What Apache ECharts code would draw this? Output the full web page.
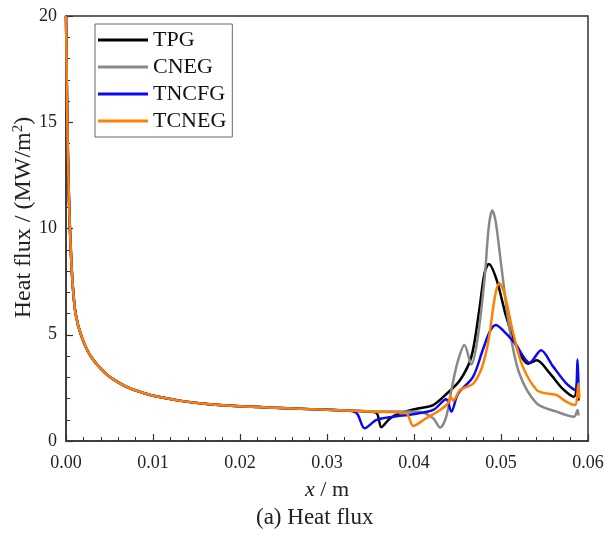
<!DOCTYPE html>
<html><head><meta charset="utf-8">
<script src="https://cdn.jsdelivr.net/npm/echarts@6/dist/echarts.min.js"></script>
<style>html,body{margin:0;padding:0;background:#fff}#c{width:610px;height:536px}</style>
</head><body><div id="c"></div>
<script>
// shared near-wall part (all four curves coincide here)
const nearWall = [[0,20],[0.00012,16],[0.00022,13.5],[0.00032,11.7],[0.00046,9.9],[0.00073,7.6],[0.0011,6.0],[0.0018,4.9],[0.0029,3.95],[0.0047,3.12],[0.006,2.76],[0.0074,2.47],[0.009,2.25],[0.0105,2.09],[0.013,1.9],[0.0165,1.73],[0.02,1.63],[0.024,1.56],[0.028,1.5],[0.032,1.44]];
const tpgTail = [[0.0345,1.39],[0.0357,1.32],[0.03625,0.65],[0.0372,1.05],[0.0383,1.3],[0.0395,1.44],[0.0406,1.54],[0.0422,1.69],[0.0437,2.2],[0.0453,2.87],[0.0466,3.97],[0.0475,6.16],[0.0481,7.89],[0.0486,8.33],[0.0495,7.58],[0.0506,5.85],[0.0518,4.44],[0.0531,3.64],[0.0541,3.8],[0.0556,3.19],[0.0571,2.45],[0.0584,2.08],[0.0588,2.85],[0.0589,1.9]];
const cnegTail = [[0.036,1.39],[0.0406,1.38],[0.0422,1.07],[0.0430,0.63],[0.0437,1.14],[0.0443,2.4],[0.0450,3.7],[0.0458,4.52],[0.0466,3.6],[0.0473,4.8],[0.0481,7.58],[0.0486,10.1],[0.0490,10.85],[0.0494,10.3],[0.0500,8.36],[0.0510,5.22],[0.0521,3.19],[0.0541,1.77],[0.0564,1.38],[0.0584,1.14],[0.0588,1.46],[0.0589,1.2]];
const tncfgTail = [[0.0334,1.32],[0.03433,0.6],[0.0357,0.99],[0.0376,1.14],[0.0399,1.26],[0.0422,1.46],[0.0437,1.96],[0.0443,1.38],[0.0449,2.08],[0.0453,2.35],[0.0468,3.03],[0.0479,4.28],[0.0487,5.14],[0.0494,5.46],[0.0502,5.22],[0.0516,4.6],[0.0533,3.68],[0.0546,4.27],[0.0560,3.5],[0.0575,2.71],[0.0585,2.4],[0.0588,3.84],[0.0589,2.6]];
const tcnegTail = [[0.036,1.37],[0.0391,1.3],[0.0399,0.71],[0.0414,1.07],[0.0430,1.46],[0.0439,1.77],[0.0442,2.08],[0.0445,1.9],[0.0453,2.4],[0.0468,2.7],[0.0477,3.34],[0.0483,4.2],[0.0487,5.07],[0.0493,6.79],[0.0498,7.42],[0.0504,6.95],[0.0514,5.07],[0.0525,3.5],[0.0541,2.4],[0.0552,2.24],[0.0564,2.16],[0.0575,1.85],[0.0585,1.69],[0.0589,2.71],[0.0590,2.0]];
const seriesNames = ['TPG','CNEG','TNCFG','TCNEG'];
const seriesColors = ['#000000','#888888','#0a0af0','#ff8000'];
const xTicks = [0,0.01,0.02,0.03,0.04,0.05,0.06];
const yTicks = [0,5,10,15,20];

const tails = [tpgTail, cnegTail, tncfgTail, tcnegTail];
const FONT = "'Liberation Serif','Times New Roman',serif";
const chart = echarts.init(document.getElementById('c'), null, {renderer:'canvas'});
chart.setOption({
  animation:false,
  backgroundColor:'#fff',
  grid:{left:66,right:22,top:16,bottom:95,containLabel:false,outerBoundsMode:'none',show:true,borderColor:'#333',borderWidth:1.5,backgroundColor:'transparent'},
  legend:{
    show:true, orient:'vertical', left:95, top:24,
    data:seriesNames,
    icon:'rect', itemWidth:50, itemHeight:3, itemGap:5,
    padding:[5,6,5,3],
    borderColor:'#666', borderWidth:1, backgroundColor:'#fff',
    textStyle:{fontFamily:FONT,fontSize:22,color:'#111',lineHeight:22}
  },
  xAxis:{
    type:'value', min:0, max:0.06, interval:0.01,
    name:'{i|x} / m', nameLocation:'middle', nameGap:38, nameMoveOverlap:false,
    nameTextStyle:{fontFamily:FONT,fontSize:22,color:'#222',rich:{i:{fontFamily:FONT,fontSize:22,fontStyle:'italic',color:'#222'}}},
    axisLine:{show:true,lineStyle:{color:'#333',width:1.5}},
    axisTick:{show:true,inside:true,length:7,lineStyle:{color:'#333',width:1.2}},
    minorTick:{show:true,splitNumber:5,length:4,lineStyle:{color:'#333',width:1}},
    splitLine:{show:false},
    axisLabel:{fontFamily:FONT,fontSize:18,color:'#222',margin:13,
      formatter:v=>{const t=xTicks.find(k=>Math.abs(k-v)<1e-9);return (t!==undefined?t:v).toFixed(2);}}
  },
  yAxis:{
    type:'value', min:0, max:20, interval:5,
    name:'Heat flux / (MW/m{s|2})', nameLocation:'middle', nameGap:30, nameRotate:90, nameMoveOverlap:false,
    nameTextStyle:{fontFamily:FONT,fontSize:24,color:'#222',padding:[0,0,0,22],rich:{s:{fontFamily:FONT,fontSize:15,color:'#222',verticalAlign:'top',padding:[0,0,10,0]}}},
    axisLine:{show:true,lineStyle:{color:'#333',width:1.5}},
    axisTick:{show:true,inside:true,length:7,lineStyle:{color:'#333',width:1.2}},
    minorTick:{show:true,splitNumber:5,length:4,lineStyle:{color:'#333',width:1}},
    splitLine:{show:false},
    axisLabel:{fontFamily:FONT,fontSize:18,color:'#222',margin:9,
      formatter:v=>yTicks.includes(v)?String(v):''}
  },
  series: seriesNames.map((n,i)=>({
    name:n, type:'line', data: nearWall.concat(tails[i]),
    symbol:'none', smooth:0.3,
    lineStyle:{color:seriesColors[i],width:2.5},
    itemStyle:{color:seriesColors[i]},
    clip:true, z:2+i
  })),
  graphic:[{type:'text',left:256,top:506,style:{text:'(a) Heat flux',font:"23px 'Liberation Serif','Times New Roman',serif",fill:'#222'}}]
});
</script></body></html>
